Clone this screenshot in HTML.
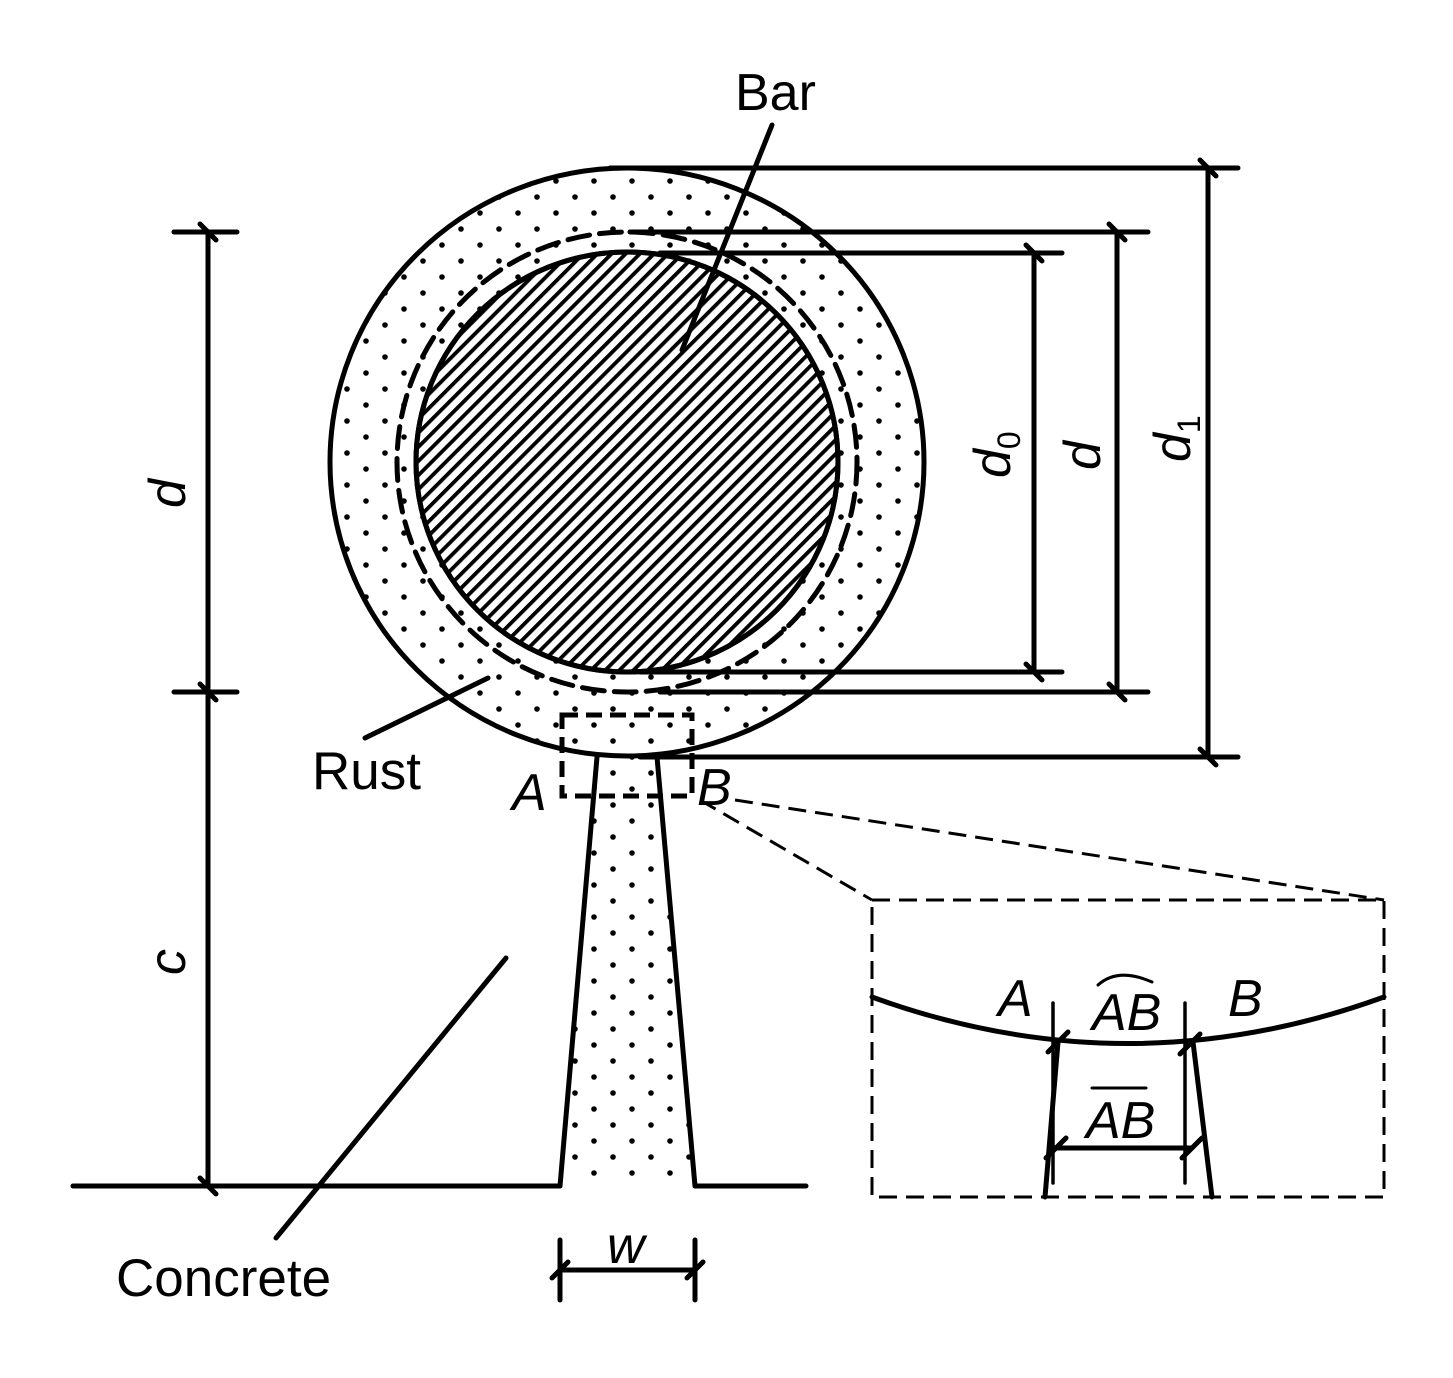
<!DOCTYPE html>
<html><head><meta charset="utf-8"><style>
html,body{margin:0;padding:0;background:#fff}
svg{display:block}
text{font-family:"Liberation Sans",sans-serif;fill:#000}
</style></head><body>
<svg width="1453" height="1378" viewBox="0 0 1453 1378" xmlns="http://www.w3.org/2000/svg">
<defs>
<pattern id="dots" width="38" height="32" patternUnits="userSpaceOnUse">
<circle cx="5" cy="5" r="2.8" fill="#000"/><circle cx="24" cy="21" r="2.8" fill="#000"/>
</pattern>
<pattern id="hatch" width="10" height="10" patternUnits="userSpaceOnUse" patternTransform="rotate(45)">
<rect x="0" y="0" width="3.8" height="10" fill="#000"/>
</pattern>
</defs>
<g stroke="#000" stroke-width="5" fill="none" stroke-linecap="round">
<ellipse cx="627" cy="462" rx="297" ry="294" fill="url(#dots)"/>
<path d="M597,757 L560,1186 L695,1186 L657,757 Z" fill="url(#dots)" stroke="none"/>
<line x1="597" y1="757" x2="560" y2="1186"/>
<line x1="657" y1="757" x2="695" y2="1186"/>
<ellipse cx="627" cy="462" rx="230" ry="230" stroke-dasharray="22,10"/>
<ellipse cx="627" cy="462" rx="211" ry="210" fill="#fff"/>
<ellipse cx="627" cy="462" rx="211" ry="210" fill="url(#hatch)"/>
<line x1="73" y1="1186" x2="560" y2="1186"/>
<line x1="695" y1="1186" x2="806" y2="1186"/>
<line x1="208" y1="232" x2="208" y2="1186"/>
<line x1="174" y1="232" x2="237" y2="232"/>
<line x1="174" y1="692" x2="237" y2="692"/>
<line x1="200" y1="224" x2="216" y2="240"/>
<line x1="200" y1="684" x2="216" y2="700"/>
<line x1="200" y1="1178" x2="216" y2="1194"/>
<line x1="610" y1="168" x2="1238" y2="168"/>
<line x1="630" y1="232" x2="1148" y2="232"/>
<line x1="660" y1="253" x2="1062" y2="253"/>
<line x1="640" y1="672" x2="1062" y2="672"/>
<line x1="660" y1="692" x2="1148" y2="692"/>
<line x1="640" y1="757" x2="1238" y2="757"/>
<line x1="1034" y1="253" x2="1034" y2="672"/>
<line x1="1117" y1="232" x2="1117" y2="692"/>
<line x1="1208" y1="168" x2="1208" y2="757"/>
<line x1="1026" y1="245" x2="1042" y2="261"/>
<line x1="1026" y1="664" x2="1042" y2="680"/>
<line x1="1109" y1="224" x2="1125" y2="240"/>
<line x1="1109" y1="684" x2="1125" y2="700"/>
<line x1="1200" y1="160" x2="1216" y2="176"/>
<line x1="1200" y1="749" x2="1216" y2="765"/>
<line x1="560" y1="1240" x2="560" y2="1300"/>
<line x1="695" y1="1240" x2="695" y2="1300"/>
<line x1="560" y1="1270" x2="695" y2="1270"/>
<line x1="552" y1="1278" x2="568" y2="1262"/>
<line x1="687" y1="1278" x2="703" y2="1262"/>
<line x1="772" y1="125" x2="682" y2="350"/>
<line x1="365" y1="738" x2="488" y2="678"/>
<line x1="276" y1="1238" x2="506" y2="958"/>
<rect x="562" y="715" width="130" height="81" stroke-dasharray="16,8" stroke-linecap="butt"/>
<g stroke-width="3" stroke-dasharray="18,9" stroke-linecap="butt">
<line x1="700" y1="800" x2="872" y2="900"/>
<line x1="735" y1="800" x2="1384" y2="900"/>
<rect x="872" y="900" width="512" height="297"/>
</g>
<path d="M872,997 Q1128,1090 1384,997"/>
<line x1="1053" y1="1003" x2="1053" y2="1183" stroke-width="3.5"/>
<line x1="1185" y1="1003" x2="1185" y2="1183" stroke-width="3.5"/>
<line x1="1058" y1="1042" x2="1045" y2="1197"/>
<line x1="1193" y1="1042" x2="1212" y2="1197"/>
<line x1="1055" y1="1148" x2="1190" y2="1148"/>
<line x1="1048" y1="1052" x2="1068" y2="1032"/>
<line x1="1180" y1="1054" x2="1200" y2="1034"/>
<line x1="1046" y1="1158" x2="1066" y2="1138"/>
<line x1="1182" y1="1158" x2="1202" y2="1138"/>
<path d="M1098,985 Q1118,967 1152,982" stroke-width="3"/>
<line x1="1092" y1="1088" x2="1146" y2="1088" stroke-width="3"/>
</g>
<text x="735" y="110" font-size="52">Bar</text>
<text x="312" y="789" font-size="53">Rust</text>
<text x="116" y="1296" font-size="53">Concrete</text>
<g font-style="italic" font-size="52">
<text x="512" y="810">A</text>
<text x="697" y="805">B</text>
<text x="998" y="1016">A</text>
<text x="1228" y="1016">B</text>
<text x="1092" y="1030">AB</text>
<text x="1086" y="1138">AB</text>
<text x="607" y="1263">w</text>
<text transform="translate(185,508) rotate(-90)">d</text>
<text transform="translate(185,975) rotate(-90)">c</text>
<text transform="translate(1010,478) rotate(-90)">d<tspan font-size="32" font-style="normal" dy="10">0</tspan></text>
<text transform="translate(1100,470) rotate(-90)">d</text>
<text transform="translate(1190,462) rotate(-90)">d<tspan font-size="32" font-style="normal" dy="10">1</tspan></text>
</g>
</svg>
</body></html>
